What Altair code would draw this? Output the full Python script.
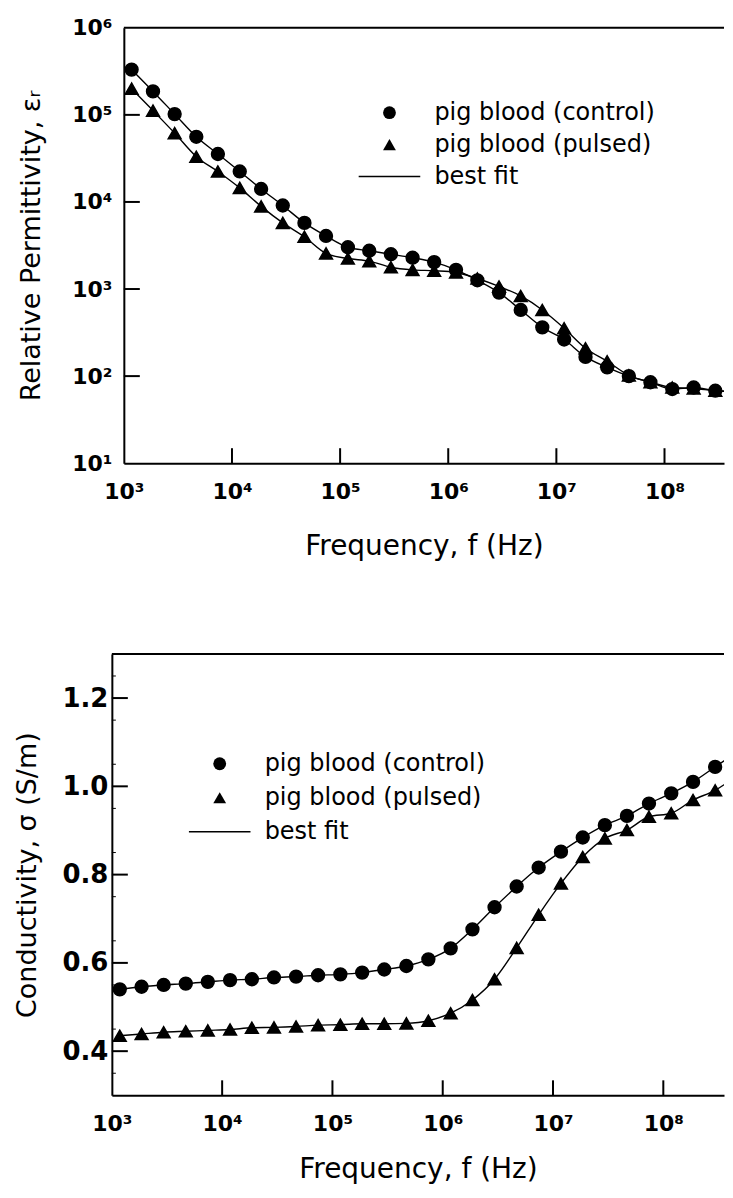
import altair as alt
import pandas as pd

# ---------------- data ----------------
freq_hz = [1.18e3, 1.86e3, 2.95e3, 4.68e3, 7.41e3,
           1.18e4, 1.86e4, 2.95e4, 4.68e4, 7.41e4,
           1.18e5, 1.86e5, 2.95e5, 4.68e5, 7.41e5,
           1.18e6, 1.86e6, 2.95e6, 4.68e6, 7.41e6,
           1.18e7, 1.86e7, 2.95e7, 4.68e7, 7.41e7,
           1.18e8, 1.86e8, 2.95e8, 4.68e8]

perm_control = [331000, 186000, 102000, 56000, 35500,
                22400, 14100, 9100, 5750, 4070,
                3020, 2750, 2510, 2290, 2040,
                1660, 1260, 910, 575, 363,
                263, 166, 126, 100, 85,
                71, 74, 68, 66]
perm_pulsed = [200000, 112000, 61700, 33100, 22400,
               14500, 8900, 5750, 3980, 2570,
               2240, 2090, 1780, 1660, 1620,
               1550, 1320, 1070, 832, 575,
               355, 209, 148, 102, 85,
               74, 72, 68, 66]

cond_control = [0.540, 0.546, 0.550, 0.553, 0.557,
                0.561, 0.563, 0.567, 0.569, 0.572,
                0.574, 0.578, 0.585, 0.593, 0.608,
                0.633, 0.676, 0.726, 0.773, 0.816,
                0.852, 0.884, 0.912, 0.933, 0.961,
                0.984, 1.010, 1.044, 1.078]
cond_pulsed = [0.435, 0.439, 0.443, 0.445, 0.447,
               0.449, 0.453, 0.454, 0.456, 0.459,
               0.460, 0.462, 0.462, 0.463, 0.469,
               0.486, 0.516, 0.563, 0.634, 0.709,
               0.780, 0.840, 0.882, 0.901, 0.931,
               0.939, 0.969, 0.991, 1.025]

series_names = ["pig blood (control)", "pig blood (pulsed)"]
legend_names = ["pig blood (control)", "pig blood (pulsed)", "best fit"]

x_tick_values = [1e3, 1e4, 1e5, 1e6, 1e7, 1e8]
x_inner_ticks = [1e4, 1e5, 1e6, 1e7, 1e8]
perm_tick_values = [1e1, 1e2, 1e3, 1e4, 1e5, 1e6]
perm_inner_ticks = [1e2, 1e3, 1e4, 1e5]
cond_tick_values = [0.4, 0.6, 0.8, 1.0, 1.2]
cond_minor_ticks = [0.35, 0.45, 0.55, 0.65, 0.75, 0.85, 0.95, 1.05, 1.15, 1.25]

x_domain = [1e3, 3.55e8]
perm_domain = [1e1, 1e6]
cond_domain = [0.3, 1.3]

# ---------------- tables ----------------
n = len(freq_hz)
perm_df = pd.DataFrame({
    "f": freq_hz + freq_hz,
    "v": perm_control + perm_pulsed,
    "series": [series_names[0]] * n + [series_names[1]] * n,
})
cond_df = pd.DataFrame({
    "f": freq_hz + freq_hz,
    "v": cond_control + cond_pulsed,
    "series": [series_names[0]] * n + [series_names[1]] * n,
})

FONT = "DejaVu Sans"
SUP = "['\u2070','\u00b9','\u00b2','\u00b3','\u2074','\u2075','\u2076','\u2077','\u2078','\u2079']"
pow_label = "'10' + " + SUP + "[round(log(datum.value)/LN10)]"

# legend glyph for "best fit": a thin filled bar (reads as a line)
shape_scale = alt.Scale(domain=legend_names,
                        range=["circle", "triangle-up",
                               "M-4.8,-0.12H4.8V0.12H-4.8Z"])


def make_legend(lx, ly, row_pad):
    return alt.Legend(
        title=None, orient="none", legendX=lx, legendY=ly,
        labelFont=FONT, labelFontSize=24, labelColor="black", labelLimit=0,
        symbolSize=165, symbolOpacity=1, labelOffset=33, rowPadding=row_pad,
        symbolStrokeColor="black", symbolFillColor="black",
        symbolStrokeWidth=1.5)


def panel(df, width, height, x0, y_scale, y_axis, x_axis, legend, top_val,
          y_ticks, y_minor=None):
    x_scale = alt.Scale(type="log", domain=x_domain, nice=False,
                        range=[x0, width])
    x_enc = alt.X("f:Q", scale=x_scale, axis=x_axis)
    y_enc = alt.Y("v:Q", scale=y_scale, axis=y_axis)

    line = alt.Chart(df).mark_line(color="black", strokeWidth=1.4, clip=True,
                                   interpolate="monotone").encode(
        x=x_enc, y=y_enc, detail="series:N")
    pts = alt.Chart(df).mark_point(filled=True, fill="black", stroke="black",
                                   strokeWidth=1.5, opacity=1,
                                   size=165, clip=True).encode(
        x=x_enc, y=y_enc,
        shape=alt.Shape("series:N", scale=shape_scale, legend=legend))

    xt = alt.Chart(pd.DataFrame({"t": x_inner_ticks})).mark_rule(
        color="black", strokeWidth=2).encode(
        x=alt.X("t:Q"), y=alt.value(height), y2=alt.value(height - 15))
    yt = alt.Chart(pd.DataFrame({"t": y_ticks})).mark_rule(
        color="black", strokeWidth=2).encode(
        y=alt.Y("t:Q"), x=alt.value(x0), x2=alt.value(x0 + 16))
    border = alt.Chart(pd.DataFrame({"t": [top_val]})).mark_rule(
        color="black", strokeWidth=2).encode(
        y=alt.Y("t:Q"), x=alt.value(x0), x2=alt.value(width))
    layers = [line, pts, xt, yt, border]
    if y_minor is not None:
        ym = alt.Chart(pd.DataFrame({"t": y_minor})).mark_rule(
            color="black", strokeWidth=1).encode(
            y=alt.Y("t:Q"), x=alt.value(x0), x2=alt.value(x0 + 4))
        layers.append(ym)
    return alt.layer(*layers).properties(width=width, height=height)


def x_axis(title_pad):
    return alt.Axis(values=x_tick_values, labelExpr=pow_label, ticks=False,
                    grid=False, domainColor="black", domainWidth=2,
                    labelFont=FONT, labelFontWeight="bold", labelFontSize=22,
                    labelColor="black", labelPadding=18, labelFlush=False,
                    titleFont=FONT, titleFontSize=28, titleFontWeight="normal",
                    titleColor="black", titlePadding=title_pad,
                    title="Frequency, f (Hz)")


top = panel(
    perm_df, 613, 436, 12,
    alt.Scale(type="log", domain=perm_domain, nice=False),
    alt.Axis(values=perm_tick_values, labelExpr=pow_label, ticks=False, grid=False,
             domainColor="black", domainWidth=2, labelFont=FONT,
             labelFontWeight="bold", labelFontSize=22, labelColor="black",
             labelPadding=12, labelFlush=False, titleFont=FONT, titleFontSize=27,
             titleFontWeight="normal", titleColor="black", titlePadding=26,
             offset=-12, title="Relative Permittivity, \u03b5\u1d63"),
    x_axis(30),
    make_legend(266, 73, 8),
    1e6, perm_inner_ticks)

bottom = panel(
    cond_df, 613, 442, 0,
    alt.Scale(domain=cond_domain, nice=False, zero=False),
    alt.Axis(values=cond_tick_values, format=".1f", ticks=False, grid=False,
             domainColor="black", domainWidth=2, labelFont=FONT,
             labelFontWeight="bold", labelFontSize=26, labelColor="black",
             labelPadding=4, labelFlush=False, titleFont=FONT, titleFontSize=27,
             titleFontWeight="normal", titleColor="black", titlePadding=20,
             title="Conductivity, \u03c3 (S/m)"),
    x_axis(21),
    make_legend(96, 98, 10),
    1.3, cond_tick_values, cond_minor_ticks)

chart = alt.ConcatChart(
    concat=[top, bottom], columns=1, spacing=93, bounds="full"
).resolve_scale(shape="independent", x="independent", y="independent"
).resolve_legend(shape="independent"
).configure_view(stroke=None
).properties(padding={"left": 5, "top": 8, "right": 0, "bottom": 0},
             background="white")

chart.save("out.html", embed_options={"renderer": "svg", "actions": False})
